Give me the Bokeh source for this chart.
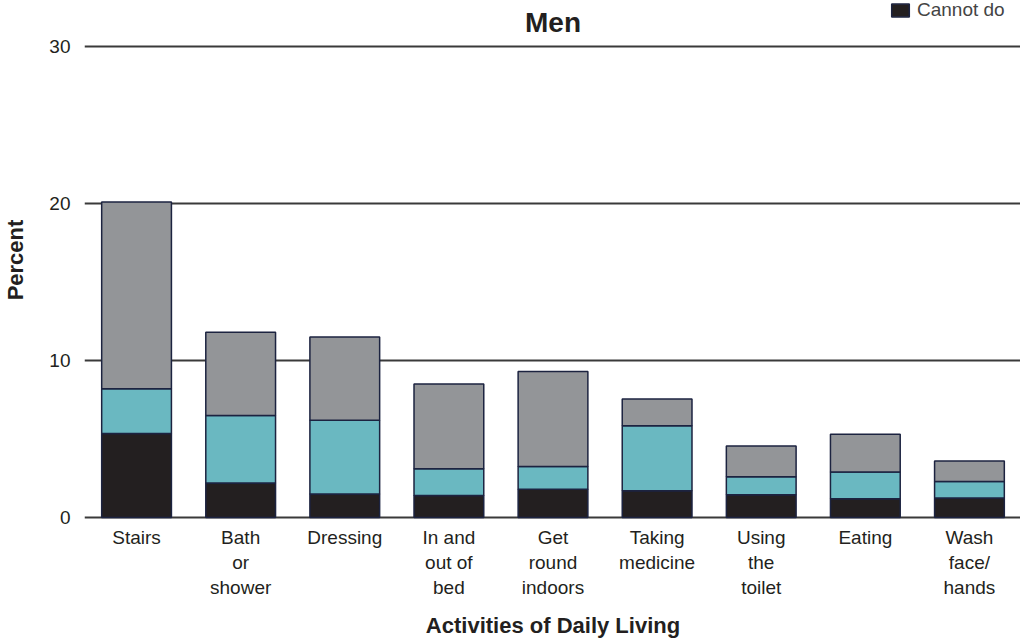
from bokeh.plotting import figure
from bokeh.models import FactorRange, Range1d, FixedTicker, Label, Legend, LegendItem
from bokeh.embed import file_html
from bokeh.resources import INLINE

categories = ["Stairs", "Bath\nor\nshower", "Dressing", "In and\nout of\nbed", "Get\nround\nindoors",
              "Taking\nmedicine", "Using\nthe\ntoilet", "Eating", "Wash\nface/\nhands"]
cannot_do = [5.35, 2.2, 1.5, 1.4, 1.8, 1.7, 1.45, 1.2, 1.25]
with_help = [2.85, 4.3, 4.7, 1.7, 1.45, 4.15, 1.15, 1.7, 1.05]
difficulty = [11.9, 5.3, 5.3, 5.4, 6.05, 1.7, 1.95, 2.4, 1.3]
series = ["cannot", "help", "difficulty"]
colors = ["#231f20", "#6ab8c1", "#939598"]
y_ticks = [0, 10, 20, 30]

data = dict(cat=categories, cannot=cannot_do, help=with_help, difficulty=difficulty)

FONT = "Liberation Sans"
p = figure(x_range=FactorRange(*categories), y_range=Range1d(-0.127, 32.93),
           frame_width=937, frame_height=519, output_backend="svg", toolbar_location=None,
           min_border_left=75, min_border_right=0, min_border_top=0, min_border_bottom=0)
p.outline_line_color = None

rs = p.vbar_stack(series, x="cat", width=0.67, source=data, color=colors,
                  line_color="#1c2340", line_width=1.5)

p.ygrid.grid_line_color = "#3a3a3a"
p.ygrid.grid_line_width = 2
p.xgrid.grid_line_color = None

p.yaxis.ticker = FixedTicker(ticks=y_ticks)
for ax in (p.xaxis[0], p.yaxis[0]):
    ax.axis_line_color = None
    ax.major_tick_line_color = None
    ax.minor_tick_line_color = None
    ax.major_label_text_font = FONT
    ax.major_label_text_font_size = "19px"
    ax.major_label_text_color = "#231f20"
    ax.axis_label_text_font = FONT
    ax.axis_label_text_font_size = "22px"
    ax.axis_label_text_font_style = "bold"
    ax.axis_label_text_color = "#231f20"
p.yaxis.major_label_standoff = 8
p.xaxis.major_label_standoff = 1
p.yaxis.axis_label = "Percent"
p.yaxis.axis_label_standoff = 18
p.xaxis.axis_label = "Activities of Daily Living"
p.xaxis.axis_label_standoff = 12

p.add_layout(Label(x=4.5, y=30, y_offset=9, text="Men", text_align="center", text_baseline="bottom",
                   text_font=FONT, text_font_size="28px", text_font_style="bold", text_color="#231f20"))

legend = Legend(items=[LegendItem(label="Cannot do", renderers=[rs[0]])], location=(805, 498),
                background_fill_alpha=0, border_line_color=None, label_text_font=FONT,
                label_text_font_size="19px", glyph_width=22, glyph_height=16, padding=0, margin=0,
                label_standoff=6)
p.add_layout(legend, "center")

open("out.html", "w").write(file_html(p, INLINE))
